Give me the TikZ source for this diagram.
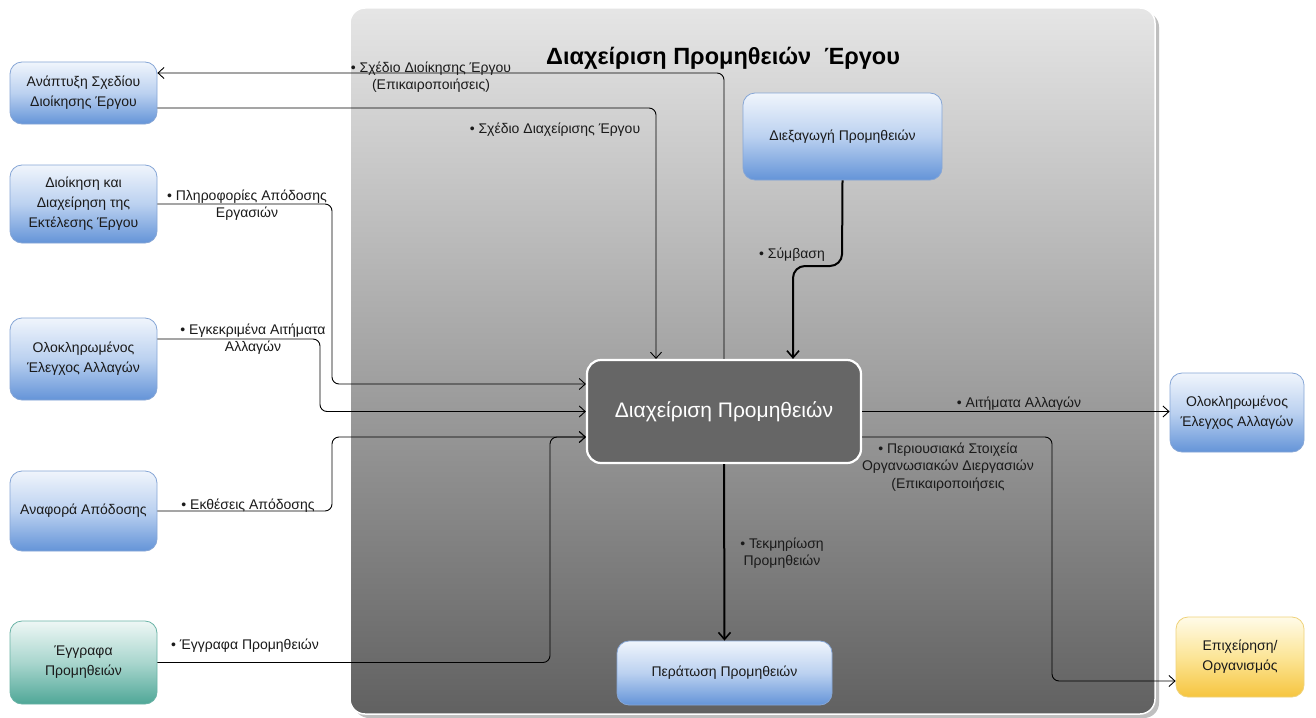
\documentclass[tikz,border=0pt]{standalone}
\usepackage{fontspec}
\setmainfont{Liberation Sans}
\usetikzlibrary{arrows.meta,shadows}
\definecolor{bluetop}{HTML}{F0F5FC}
\definecolor{bluemid}{HTML}{BBD1F0}
\definecolor{bluebot}{HTML}{6494D8}
\definecolor{blueborder}{HTML}{86A6D6}
\definecolor{greentop}{HTML}{EEF7F5}
\definecolor{greenmid}{HTML}{A9D6CE}
\definecolor{greenbot}{HTML}{4FA797}
\definecolor{greenborder}{HTML}{6AB3A6}
\definecolor{yeltop}{HTML}{FFFBE8}
\definecolor{yelmid}{HTML}{FCE597}
\definecolor{yelbot}{HTML}{F6C53F}
\definecolor{yelborder}{HTML}{EFD27A}
\definecolor{cgray}{HTML}{666666}
\definecolor{labcol}{HTML}{1A1A1A}
\tikzset{
  box/.style={rounded corners=12pt, draw=blueborder, line width=0.8pt,
    top color=bluetop, bottom color=bluebot, middle color=bluemid,
    align=center, text=labcol, inner sep=2pt,
    font=\fontsize{14}{20}\selectfont},
  greenbox/.style={box, draw=greenborder, top color=greentop, bottom color=greenbot, middle color=greenmid},
  yelbox/.style={box, draw=yelborder, top color=yeltop, bottom color=yelbot, middle color=yelmid},
  centerbox/.style={rounded corners=14pt, draw=white, line width=2.2pt, fill=cgray,
    text=white, font=\fontsize{21}{24}\selectfont, align=center},
  lab/.style={align=center, text=labcol, inner sep=0pt, font=\fontsize{14}{17.5}\selectfont},
  conn/.style={draw=black, line width=0.9pt, rounded corners=7pt},
  arr/.style={conn, -{Straight Barb[length=6pt,width=11pt,line width=0.9pt]}},
  thickarr/.style={conn, line width=2pt, -{Straight Barb[length=7pt,width=12pt,line width=1.6pt]}},
}
\begin{document}
\begin{tikzpicture}[x=1pt,y=-1pt]
\useasboundingbox (0,0) rectangle (1316,717);
\fill[white] (0,0) rectangle (1316,717);
% container
\fill[black!25, rounded corners=15pt] (354,12) rectangle (1159,718);
\shade[top color=black!10, bottom color=black!62, rounded corners=15pt, draw=white, line width=1.5pt]
  (350,8) rectangle (1155,714);
\node[font=\fontsize{23.5}{26}\selectfont\bfseries, text=black] (title) at (723,58) {Διαχείριση Προμηθειών \ Έργου};

% nodes
\node[box, minimum width=147pt, minimum height=62pt] (b1) at (83.5,93) {Ανάπτυξη Σχεδίου\\Διοίκησης Έργου};
\node[box, minimum width=147pt, minimum height=78pt] (b2) at (83.5,204) {Διοίκηση και\\Διαχείρηση της\\Εκτέλεσης Έργου};
\node[box, minimum width=147pt, minimum height=82pt] (b3) at (83.5,359) {Ολοκληρωμένος\\Έλεγχος Αλλαγών};
\node[box, minimum width=147pt, minimum height=80pt] (b4) at (83.5,511) {Αναφορά Απόδοσης};
\node[greenbox, minimum width=147pt, minimum height=83pt] (b5) at (83.5,662.5) {Έγγραφα\\Προμηθειών};
\node[box, minimum width=199pt, minimum height=87pt] (dx) at (842.5,136.5) {Διεξαγωγή Προμηθειών};
\node[centerbox, minimum width=274pt, minimum height=103pt] (c) at (724,411.5) {Διαχείριση Προμηθειών};
\node[box, minimum width=215pt, minimum height=64pt] (per) at (724.5,673) {Περάτωση Προμηθειών};
\node[box, minimum width=134pt, minimum height=79pt] (r1) at (1237,412.5) {Ολοκληρωμένος\\Έλεγχος Αλλαγών};
\node[yelbox, minimum width=128pt, minimum height=80pt] (r2) at (1240,657) {Επιχείρηση/\\Οργανισμός};

% coordinates for bends
\coordinate (k1) at (332,384);
\coordinate (k2) at (320,411.5);
\coordinate (k3) at (332,437);
\coordinate (k4) at (550,437);
\coordinate (k5) at (1052,681);
\coordinate (t1) at (724,73);
\coordinate (s1) at (842,266);
\coordinate (s2) at (793,266);

% connectors
\draw[arr] (c.north) -- (t1) -- (t1 -| b1.east);
\draw[arr] ([yshift=-15pt]b1.east) -| ([xshift=-68pt]c.north);
\draw[thickarr, rounded corners=12pt] (dx.south) -- (s1) -- (s2) -- ([xshift=69pt]c.north);
\draw[arr] (b2.east) -| (k1) -- (k1 -| c.west);
\draw[arr] ([yshift=20pt]b3.east) -| (k2) -- (c.west);
\draw[arr] (b4.east) -| (k3) -- (k3 -| c.west);
\draw[arr] (b5.east) -| (k4) -- (k4 -| c.west);
\draw[thickarr] (c.south) -- (per.north);
\draw[arr] (c.east) -- (c.east -| r1.west);
\draw[arr] ([yshift=-25.5pt]c.east) -| (k5) -- (k5 -| r2.west);

% labels
\node[lab] (l1) at (431,77) {• Σχέδιο Διοίκησης Έργου\\(Επικαιροποιήσεις)};
\node[lab] (l2) at (555,130) {• Σχέδιο Διαχείρισης Έργου};
\node[lab] (l3) at (792,255) {• Σύμβαση};
\node[lab] (l4) at (247,205) {• Πληροφορίες Απόδοσης\\Εργασιών};
\node[lab] (l5) at (253,339) {• Εγκεκριμένα Αιτήματα\\Αλλαγών};
\node[lab] (l6) at (248,506) {• Εκθέσεις Απόδοσης};
\node[lab] (l7) at (245,646) {• Έγγραφα Προμηθειών};
\node[lab] (l8) at (782,553) {• Τεκμηρίωση\\Προμηθειών};
\node[lab] (l9) at (1019,404) {• Αιτήματα Αλλαγών};
\node[lab] (l10) at (948,467) {• Περιουσιακά Στοιχεία\\Οργανωσιακών Διεργασιών\\(Επικαιροποιήσεις};
\end{tikzpicture}
\end{document}
